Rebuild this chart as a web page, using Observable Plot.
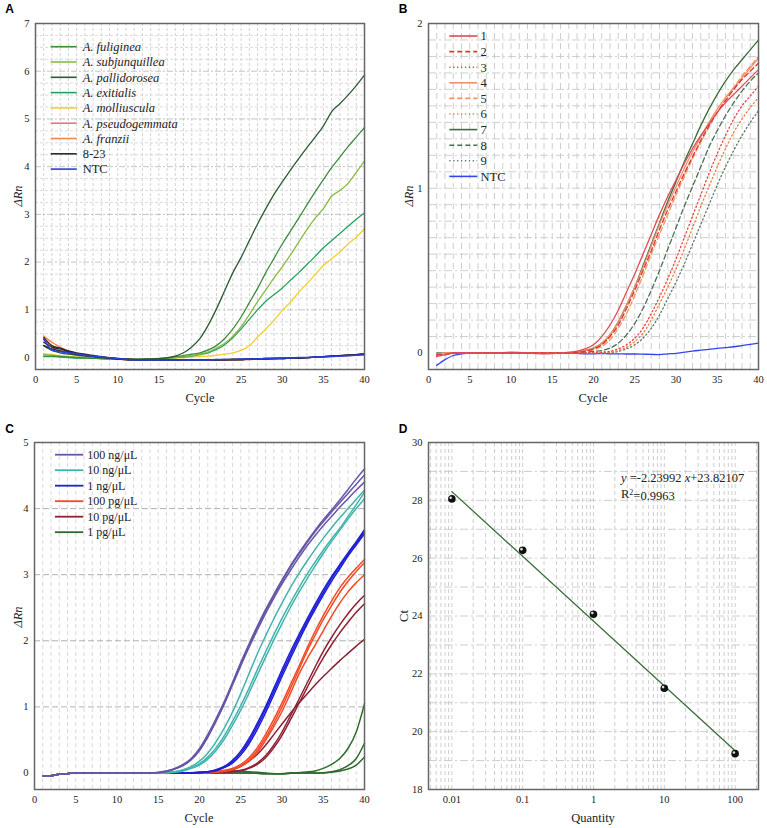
<!DOCTYPE html>
<html>
<head>
<meta charset="utf-8">
<script src="https://cdn.jsdelivr.net/npm/d3@7"></script>
<script src="https://cdn.jsdelivr.net/npm/@observablehq/plot@0.6"></script>
<style>
  body { margin: 0; background: #fff; }
  #fig { position: relative; width: 767px; height: 828px; background: #fff; }
  .panel { position: absolute; }
  #overlay { position: absolute; left: 0; top: 0; pointer-events: none; }
</style>
</head>
<body>
<div id="fig"></div>
<script>
// ---------- shared cycle axis ----------
const cycles = [1,2,3,4,5,6,8,10,12,14,16,17,18,19,20,21,22,23,24,25,26,27,28,29,30,31,32,33,34,35,36,37,38,39,40];
const cycleTicks = [0,5,10,15,20,25,30,35,40];

// ---------- panel A: species specificity ----------
const aFuliginea      = [0.03,0.03,0.02,0.01,0.00,-0.01,-0.02,-0.03,-0.04,-0.03,-0.01, 0.02,0.04,0.07,0.10,0.16,0.25,0.40,0.60,0.85,1.15,1.45,1.78,2.08,2.38,2.65,2.92,3.20,3.47,3.73,3.98,4.20,4.42,4.62,4.82];
const aSubjunquillea  = [0.06,0.05,0.03,0.02,0.01,0.00,-0.02,-0.03,-0.04,-0.03,-0.01, 0.00,0.02,0.04,0.07,0.12,0.20,0.30,0.45,0.65,0.90,1.17,1.42,1.67,1.90,2.15,2.42,2.68,2.92,3.12,3.38,3.50,3.65,3.88,4.12];
const aPallidorosea   = [0.25,0.15,0.10,0.07,0.05,0.03,0.00,-0.03,-0.04,-0.03,0.00, 0.03,0.10,0.22,0.40,0.68,1.02,1.40,1.78,2.10,2.45,2.80,3.12,3.42,3.68,3.93,4.17,4.40,4.62,4.85,5.15,5.32,5.50,5.70,5.92];
const aExitialis      = [0.02,0.02,0.01,0.00,-0.01,-0.01,-0.02,-0.03,-0.04,-0.03,-0.01, 0.00,0.01,0.03,0.06,0.10,0.17,0.27,0.42,0.60,0.80,1.00,1.18,1.32,1.46,1.62,1.78,1.95,2.12,2.30,2.45,2.60,2.75,2.90,3.03];
const aMolliuscula    = [0.08,0.06,0.04,0.02,0.01,0.00,-0.02,-0.03,-0.04,-0.03,-0.02, -0.01,0.00,0.01,0.02,0.03,0.05,0.07,0.10,0.15,0.25,0.43,0.60,0.78,0.99,1.16,1.37,1.55,1.74,1.93,2.07,2.21,2.38,2.52,2.70];
const aPseudogemmata  = [0.38,0.22,0.15,0.10,0.06,0.03,0.00,-0.03,-0.05,-0.05,-0.05, -0.05,-0.05,-0.05,-0.05,-0.05,-0.05,-0.05,-0.04,-0.04,-0.04,-0.03,-0.03,-0.02,-0.02,-0.01,-0.01,0.00,0.01,0.02,0.02,0.03,0.04,0.05,0.06];
const aFranzii        = [0.45,0.32,0.22,0.14,0.09,0.05,0.01,-0.03,-0.05,-0.05,-0.05, -0.05,-0.05,-0.06,-0.06,-0.06,-0.06,-0.06,-0.06,-0.05,-0.04,-0.03,-0.03,-0.02,-0.02,-0.01,0.00,0.00,0.01,0.02,0.03,0.03,0.04,0.05,0.06];
const a823a           = [0.42,0.25,0.20,0.14,0.10,0.07,0.02,-0.02,-0.05,-0.05,-0.05, -0.05,-0.05,-0.05,-0.05,-0.05,-0.05,-0.04,-0.04,-0.04,-0.03,-0.03,-0.03,-0.02,-0.02,-0.01,-0.01,0.00,0.01,0.02,0.03,0.04,0.05,0.06,0.07];
const a823b           = [0.32,0.22,0.18,0.12,0.08,0.05,0.01,-0.03,-0.05,-0.06,-0.06, -0.06,-0.06,-0.05,-0.05,-0.05,-0.05,-0.05,-0.04,-0.04,-0.03,-0.03,-0.02,-0.02,-0.02,-0.01,-0.01,0.00,0.01,0.02,0.03,0.04,0.05,0.06,0.08];
const a823c           = [0.25,0.18,0.14,0.10,0.07,0.04,0.01,-0.02,-0.04,-0.05,-0.05, -0.05,-0.05,-0.05,-0.05,-0.05,-0.05,-0.05,-0.04,-0.04,-0.03,-0.03,-0.02,-0.02,-0.01,-0.01,0.00,0.00,0.01,0.02,0.03,0.04,0.05,0.06,0.07];
const aNTC            = [0.39,0.15,0.12,0.10,0.08,0.05,0.01,-0.02,-0.05,-0.05,-0.05, -0.05,-0.05,-0.05,-0.05,-0.05,-0.04,-0.04,-0.04,-0.03,-0.03,-0.03,-0.02,-0.02,-0.01,-0.01,0.00,0.00,0.01,0.01,0.02,0.03,0.04,0.05,0.06];
const aLegend = ["A. fuliginea","A. subjunquillea","A. pallidorosea","A. exitialis","A. molliuscula","A. pseudogemmata","A. franzii","8-23","NTC"];
const aYTicks = [0,1,2,3,4,5,6,7];

// ---------- panel B: reproducibility (samples 1–9) ----------
const b1 = [-0.02,-0.01,0,0,0,0,0,0.005,0,-0.005,0, 0.005,0.012,0.025,0.05,0.10,0.17,0.26,0.37,0.48,0.60,0.72,0.84,0.95,1.05,1.15,1.24,1.32,1.39,1.46,1.52,1.57,1.62,1.67,1.72];
const b2 = [-0.01,-0.01,0,0,0,0,0,0,0,0,0, 0,0.005,0.012,0.025,0.05,0.10,0.17,0.27,0.38,0.50,0.62,0.75,0.87,0.98,1.09,1.19,1.29,1.38,1.46,1.53,1.60,1.66,1.71,1.76];
const b3 = [-0.02,-0.01,0,0,0,0,0,0,0,0,0, 0,0,0,0,0.005,0.01,0.025,0.05,0.09,0.15,0.24,0.34,0.45,0.57,0.70,0.83,0.96,1.09,1.21,1.32,1.42,1.50,1.56,1.62];
const b4 = [-0.01,0,0,0,0,0,0,0,0,0,0, 0,0.006,0.015,0.03,0.06,0.11,0.19,0.29,0.40,0.52,0.65,0.78,0.90,1.01,1.12,1.22,1.31,1.40,1.48,1.55,1.61,1.67,1.73,1.79];
const b5 = [-0.01,0,0,0,0,0,0,0,0,0,0, 0,0.004,0.01,0.02,0.04,0.08,0.15,0.24,0.35,0.47,0.60,0.72,0.84,0.96,1.07,1.18,1.28,1.37,1.46,1.54,1.61,1.68,1.74,1.80];
const b6 = [-0.01,0,0,0,0,0,0,0,0,0,0, 0,0,0,0,0,0.005,0.015,0.035,0.07,0.12,0.20,0.30,0.40,0.51,0.63,0.76,0.89,1.01,1.13,1.24,1.34,1.42,1.49,1.55];
const b7 = [-0.01,0,0,0,0,0,0,0,0,0,0, 0,0.005,0.015,0.03,0.06,0.11,0.19,0.29,0.40,0.53,0.66,0.79,0.92,1.04,1.16,1.27,1.38,1.48,1.57,1.65,1.72,1.78,1.84,1.90];
const b8 = [0,0,0,0,0,0,0,0,0,0,0, 0,0,0.005,0.01,0.015,0.03,0.06,0.11,0.18,0.27,0.38,0.50,0.63,0.76,0.89,1.01,1.13,1.25,1.35,1.44,1.52,1.59,1.65,1.70];
const b9 = [-0.01,0,0,0,0,0,0,0,0,0,0, 0,0,0,0,0,0,0.01,0.025,0.05,0.09,0.15,0.23,0.33,0.43,0.54,0.66,0.78,0.90,1.02,1.13,1.23,1.32,1.40,1.47];
const bNTC = [-0.075,-0.04,-0.015,-0.005,0,0,0,0.002,0,0,0, 0,-0.002,-0.005,-0.005,-0.003,-0.005,-0.005,-0.006,-0.006,-0.007,-0.008,-0.01,-0.005,-0.002,0.005,0.012,0.017,0.022,0.028,0.033,0.038,0.045,0.052,0.06];
const bLegend = ["1","2","3","4","5","6","7","8","9","NTC"];
const bYTicks = [0,1,2];

// ---------- panel C: sensitivity (template dilutions, triplicates) ----------
const c100ngA = [-0.05,-0.04,-0.02,-0.01,0,0,0,0.005,0,0,0.03, 0.07,0.13,0.22,0.37,0.58,0.82,1.08,1.37,1.67,1.95,2.22,2.47,2.70,2.92,3.13,3.32,3.50,3.67,3.83,3.98,4.13,4.29,4.45,4.60];
const c100ngB = [-0.05,-0.04,-0.02,-0.01,0,0,0,0.005,0,0,0.03, 0.06,0.12,0.21,0.35,0.56,0.80,1.06,1.35,1.65,1.93,2.20,2.45,2.68,2.90,3.11,3.30,3.48,3.65,3.80,3.95,4.09,4.23,4.37,4.51];
const c100ngC = [-0.05,-0.04,-0.02,-0.01,0,0,0,0.005,0,0,0.02, 0.06,0.11,0.20,0.34,0.54,0.78,1.04,1.33,1.62,1.90,2.16,2.41,2.64,2.86,3.06,3.25,3.43,3.59,3.74,3.88,4.02,4.15,4.28,4.40];
const c10ngA  = [-0.05,-0.04,-0.02,-0.01,0,0,0,0.005,0,0,0.01, 0.02,0.05,0.10,0.18,0.30,0.47,0.68,0.92,1.20,1.50,1.80,2.07,2.33,2.57,2.80,3.01,3.20,3.38,3.55,3.71,3.86,4.00,4.14,4.28];
const c10ngB  = [-0.05,-0.04,-0.02,-0.01,0,0,0,0.005,0,0,0, 0.02,0.04,0.08,0.14,0.24,0.38,0.56,0.78,1.02,1.28,1.56,1.83,2.09,2.34,2.57,2.79,3.00,3.19,3.37,3.54,3.70,3.88,4.06,4.25];
const c10ngC  = [-0.05,-0.04,-0.02,-0.01,0,0,0,0.005,0,0,0, 0.01,0.03,0.07,0.12,0.21,0.34,0.51,0.72,0.95,1.21,1.48,1.75,2.01,2.26,2.50,2.72,2.93,3.13,3.32,3.50,3.67,3.84,4.00,4.15];
const c1ngA   = [-0.05,-0.04,-0.02,-0.01,0,0,0,0.005,0,0,0, 0,0,0.005,0.01,0.02,0.05,0.10,0.19,0.33,0.52,0.75,1.00,1.28,1.56,1.83,2.08,2.32,2.55,2.77,2.97,3.15,3.33,3.50,3.68];
const c1ngB   = [-0.05,-0.04,-0.02,-0.01,0,0,0,0.005,0,0,0, 0,0,0,0.01,0.02,0.04,0.09,0.17,0.30,0.48,0.71,0.96,1.23,1.51,1.78,2.04,2.28,2.51,2.73,2.94,3.13,3.31,3.48,3.65];
const c1ngC   = [-0.05,-0.04,-0.02,-0.01,0,0,0,0.005,0,0,0, 0,0,0,0,0.015,0.035,0.08,0.15,0.27,0.44,0.66,0.91,1.18,1.46,1.73,1.99,2.24,2.47,2.69,2.90,3.09,3.28,3.45,3.62];
const c100pgA = [-0.05,-0.04,-0.02,-0.01,0,0,0,0.005,0,0,0, 0,0,0,0.005,0.01,0.02,0.04,0.07,0.13,0.23,0.38,0.58,0.81,1.06,1.33,1.60,1.88,2.14,2.38,2.60,2.80,2.96,3.10,3.23];
const c100pgB = [-0.05,-0.04,-0.02,-0.01,0,0,0,0.005,0,0,0, 0,0,0,0,0.005,0.015,0.03,0.06,0.11,0.20,0.34,0.53,0.75,1.00,1.27,1.55,1.83,2.08,2.32,2.53,2.73,2.90,3.05,3.18];
const c100pgC = [-0.05,-0.04,-0.02,-0.01,0,0,0,0.005,0,0,0, 0,0,0,0,0,0.01,0.025,0.05,0.10,0.18,0.31,0.49,0.70,0.93,1.20,1.48,1.72,1.93,2.15,2.37,2.57,2.74,2.88,3.00];
const c10pgA  = [-0.05,-0.04,-0.02,-0.01,0,0,0,0.005,0,0,0, 0,0,0,0,0,0.01,0.015,0.025,0.04,0.08,0.15,0.26,0.42,0.62,0.86,1.10,1.35,1.60,1.84,2.05,2.24,2.41,2.56,2.69];
const c10pgB  = [-0.05,-0.04,-0.02,-0.01,0,0,0,0.005,0,0,0, 0,0,0,0,0,0.005,0.01,0.02,0.03,0.07,0.13,0.23,0.38,0.57,0.80,1.04,1.28,1.52,1.74,1.94,2.12,2.28,2.43,2.56];
const c10pgC  = [-0.05,-0.04,-0.02,-0.01,0,0,0,0.005,0,0,0, 0,0,0,0,0.01,0.015,0.03,0.05,0.10,0.18,0.28,0.42,0.58,0.74,0.90,1.05,1.19,1.33,1.46,1.58,1.70,1.81,1.92,2.02];
const c1pgA   = [-0.05,-0.04,-0.02,-0.01,0,0,0,0.005,0,0,0, 0,0,0,0.01,0.01,0.02,0.03,0.03,0.03,0.02,0.01,0.00,-0.01,-0.01,0.00,0.005,0.015,0.03,0.07,0.13,0.22,0.37,0.62,1.05];
const c1pgB   = [-0.05,-0.04,-0.02,-0.01,0,0,0,0.005,0,0,0, 0,0,0,0,0,0,0,0,0,0,-0.005,-0.01,-0.01,-0.01,-0.005,0,0,0,0.005,0.02,0.05,0.11,0.22,0.45];
const c1pgC   = [-0.05,-0.04,-0.02,-0.01,0,0,0,0.005,0,0,0, 0,0,0,0,0,0,0,0,0,0,-0.005,-0.01,-0.01,-0.01,-0.005,0,0,0,0,0.01,0.03,0.06,0.12,0.24];
const cLegend = ["100 ng/\u03bcL","10 ng/\u03bcL","1 ng/\u03bcL","100 pg/\u03bcL","10 pg/\u03bcL","1 pg/\u03bcL"];
const cYTicks = [0,1,2,3,4,5];

// ---------- panel D: standard curve ----------
const dQuantity = [0.01, 0.1, 1, 10, 100];
const dCt = [28.05, 26.27, 24.06, 21.5, 19.24];
const dSlope = -2.23992;
const dIntercept = 23.82107;
const dR2 = "0.9963";
const dXTicks = [0.01, 0.1, 1, 10, 100];
const dYTicks = [18,20,22,24,26,28,30];

// ---------- styling ----------
const serif = '"Liberation Serif", "Times New Roman", Times, serif';
const sans = '"Liberation Sans", Arial, Helvetica, sans-serif';
const aColors = ["#3c8c3c","#88bb40","#2e5a32","#22a35a","#f4cf2a","#e87878","#f08848","#2a2a2a","#2a40e6"];
const bColors = ["#e04a55","#e03434","#e84242","#f0906a","#f0965e","#f07a3a","#3d6b3d","#4b6f53","#5f7b61","#3344ee"];
const bDashes = [null,"5,3","1.3,2.6",null,"5,3","1.3,2.6",null,"5,3","1.3,2.6",null];
const cColors = ["#6656a8","#40b5ad","#1e1ed6","#f24a26","#8c2233","#2d6b2d"];
const intFormat = d => String(d);

const plotStyle = {fontFamily: serif, fontSize: "10.5px", color: "#222", background: "transparent", overflow: "visible"};

function rowsFor(values) {
  return cycles.map((cycle, i) => ({cycle, value: values[i]}));
}
function curve(values, stroke, width, dash) {
  const opts = {x: "cycle", y: "value", stroke, strokeWidth: width, curve: "monotone-x"};
  if (dash) opts.strokeDasharray = dash;
  return Plot.line(rowsFor(values), opts);
}
function frame() { return Plot.frame({stroke: "#666", strokeWidth: 1.5}); }

const fig = document.getElementById("fig");
function place(svg, left, top) {
  // tick labels in the same serif face as the rest of the figure
  svg.setAttribute("font-family", serif);
  svg.setAttribute("font-size", "10.5");
  svg.querySelectorAll("text").forEach(t => {
    t.style.fontFamily = serif;
    t.style.fontSize = "10.5px";
    t.setAttribute("fill", "#222");
  });
  const div = document.createElement("div");
  div.className = "panel";
  div.style.left = left + "px";
  div.style.top = top + "px";
  div.appendChild(svg);
  fig.appendChild(div);
}

// ---------- A ----------
const aMinorY = d3.range(0, 7, 0.25).filter(v => v % 1 !== 0);
const plotA = Plot.plot({
  width: 384, height: 414,
  marginLeft: 35, marginRight: 20, marginTop: 23, marginBottom: 45,
  style: plotStyle,
  x: {domain: [0, 40], ticks: cycleTicks, tickFormat: intFormat, tickSize: 0, tickPadding: 6, label: null},
  y: {domain: [-0.25, 7], ticks: aYTicks, tickFormat: intFormat, tickSize: 0, tickPadding: 6, label: null},
  marks: [
    Plot.ruleX(d3.range(1, 40), {stroke: "#c9c9c9", strokeWidth: 0.8, strokeDasharray: "3,2"}),
    Plot.ruleY(aMinorY, {stroke: "#d2d2d2", strokeWidth: 0.8, strokeDasharray: "3,2"}),
    Plot.ruleY(aYTicks.slice(1, 7), {stroke: "#b5b5b5", strokeWidth: 0.8, strokeDasharray: "6,2,2,2"}),
    curve(aPseudogemmata, aColors[5], 1.3),
    curve(aFranzii, aColors[6], 1.3),
    curve(aMolliuscula, aColors[4], 1.3),
    curve(aExitialis, aColors[3], 1.3),
    curve(aSubjunquillea, aColors[1], 1.3),
    curve(aFuliginea, aColors[0], 1.3),
    curve(aPallidorosea, aColors[2], 1.3),
    curve(a823a, aColors[7], 1.3),
    curve(a823b, aColors[7], 1.3),
    curve(a823c, aColors[7], 1.3),
    curve(aNTC, aColors[8], 1.5),
    frame()
  ]
});
place(plotA, 0, 0);

// ---------- B ----------
const bSeries = [b1, b2, b3, b4, b5, b6, b7, b8, b9];
const plotB = Plot.plot({
  width: 383, height: 414,
  marginLeft: 44, marginRight: 9, marginTop: 23, marginBottom: 45,
  style: plotStyle,
  x: {domain: [0, 40], ticks: cycleTicks, tickFormat: intFormat, tickSize: 0, tickPadding: 6, label: null},
  y: {domain: [-0.1, 2], ticks: bYTicks, tickFormat: intFormat, tickSize: 0, tickPadding: 6, label: null},
  marks: [
    Plot.ruleX(d3.range(1, 40), {stroke: "#c8c8c8", strokeWidth: 0.9, strokeDasharray: "6,4"}),
    Plot.ruleY(d3.range(1, 20).map(i => i / 10), {stroke: "#c8c8c8", strokeWidth: 0.9, strokeDasharray: "8,3,2,3"}),
    curve(bNTC, bColors[9], 1.3),
    ...bSeries.map((s, i) => curve(s, bColors[i], 1.3, bDashes[i])).reverse(),
    frame()
  ]
});
place(plotB, 384, 0);

// ---------- C ----------
const cGroups = [
  [c100ngA, c100ngB, c100ngC],
  [c10ngA, c10ngB, c10ngC],
  [c1ngA, c1ngB, c1ngC],
  [c100pgA, c100pgB, c100pgC],
  [c10pgA, c10pgB, c10pgC],
  [c1pgA, c1pgB, c1pgC]
];
const plotC = Plot.plot({
  width: 384, height: 414,
  marginLeft: 34, marginRight: 20, marginTop: 28, marginBottom: 39,
  style: plotStyle,
  x: {domain: [0, 40], ticks: cycleTicks, tickFormat: intFormat, tickSize: 0, tickPadding: 6, label: null},
  y: {domain: [-0.25, 5], ticks: cYTicks, tickFormat: intFormat, tickSize: 0, tickPadding: 6, label: null},
  marks: [
    Plot.ruleX(d3.range(1, 40), {stroke: "#d0d0d0", strokeWidth: 0.8, strokeDasharray: "4,3"}),
    Plot.ruleY(cYTicks.slice(1, 5), {stroke: "#a8a8a8", strokeWidth: 0.9, strokeDasharray: "6,3"}),
    ...cGroups.flatMap((g, i) => g.map(s => curve(s, cColors[i], 1.5))).reverse(),
    frame()
  ]
});
place(plotC, 0, 414);

// ---------- D ----------
const dDomain = [Math.pow(10, -2.33), Math.pow(10, 2.33)];
const dMinorX = [];
for (let e = -3; e <= 2; e++) for (let k = 1; k <= 9; k++) {
  const v = k * Math.pow(10, e);
  if (v > dDomain[0] && v < dDomain[1]) dMinorX.push(v);
}
const dPoints = dQuantity.map((q, i) => ({q, ct: dCt[i]}));
const dFit = [dQuantity[0], dQuantity[dQuantity.length - 1]].map(q => ({q, ct: dSlope * Math.log10(q) + dIntercept}));
const plotD = Plot.plot({
  width: 383, height: 414,
  marginLeft: 44, marginRight: 9, marginTop: 28, marginBottom: 39,
  style: plotStyle,
  x: {type: "log", domain: dDomain, ticks: dXTicks, tickFormat: intFormat, tickSize: 0, tickPadding: 6, label: null},
  y: {domain: [18, 30], ticks: dYTicks, tickFormat: intFormat, tickSize: 0, tickPadding: 6, label: null},
  marks: [
    Plot.ruleX(dMinorX, {stroke: "#c8c8c8", strokeWidth: 0.9, strokeDasharray: "4,3"}),
    Plot.ruleY(d3.range(19, 30), {stroke: "#c8c8c8", strokeWidth: 0.9, strokeDasharray: "8,3,2,3"}),
    Plot.line(dFit, {x: "q", y: "ct", stroke: "#3a6e3a", strokeWidth: 1.3}),
    Plot.dot(dPoints, {x: "q", y: "ct", r: 3.8, fill: "#111"}),
    Plot.dot(dPoints, {x: "q", y: "ct", r: 1.3, fill: "#fff", fillOpacity: 0.85, dx: -1.2, dy: -1.2}),
    frame()
  ]
});
place(plotD, 384, 414);

// ---------- titles, panel letters, legends ----------
const ov = d3.select("#fig").append("svg").attr("id", "overlay").attr("width", 767).attr("height", 828);

function label(txt, x, y, opts = {}) {
  const t = ov.append("text")
    .attr("x", 0).attr("y", 0).attr("dy", "0.35em")
    .attr("transform", `translate(${x},${y})` + (opts.rotate ? ` rotate(${opts.rotate})` : ""))
    .attr("text-anchor", opts.anchor || "middle")
    .attr("font-family", opts.family || serif)
    .attr("font-size", opts.size || 12.5)
    .attr("font-weight", opts.weight || "normal")
    .attr("font-style", opts.italic ? "italic" : "normal")
    .attr("fill", opts.fill || "#222");
  t.text(txt);
  return t;
}

// panel letters
[["A", 9.5, 9.2], ["B", 403.2, 9.2], ["C", 9.5, 428.7], ["D", 403.2, 428.7]].forEach(([s, x, y]) =>
  label(s, x, y, {family: sans, weight: "bold", size: 12, fill: "#000"}));

// axis titles
label("Cycle", 200, 398);
label("Cycle", 593, 398);
label("Cycle", 199, 818);
label("Quantity", 593, 818);
label("\u0394Rn", 17.5, 196, {rotate: -90, italic: true});
label("\u0394Rn", 409, 196, {rotate: -90, italic: true});
label("\u0394Rn", 17.5, 617, {rotate: -90, italic: true});
label("Ct", 403.5, 616, {rotate: -90});

// regression equation
const eq = ov.append("text").attr("x", 621).attr("y", 477.3).attr("dy", "0.35em")
  .attr("font-family", serif).attr("font-size", 12.5).attr("fill", "#222");
eq.append("tspan").attr("font-style", "italic").text("y");
eq.append("tspan").text(` =${dSlope.toFixed(5)} `);
eq.append("tspan").attr("font-style", "italic").text("x");
eq.append("tspan").text(`+${dIntercept.toFixed(5)}`);
const r2 = ov.append("text").attr("x", 621).attr("y", 494).attr("dy", "0.35em")
  .attr("font-family", serif).attr("font-size", 12.5).attr("fill", "#222");
r2.append("tspan").text("R");
r2.append("tspan").attr("font-size", 8).attr("dy", "-0.45em").text("2");
r2.append("tspan").attr("dy", "0.45em").text(`=${dR2}`);

function legend(names, colors, dashes, cfg) {
  names.forEach((name, i) => {
    const y = cfg.y0 + i * cfg.step;
    const line = ov.append("line")
      .attr("x1", cfg.x0).attr("x2", cfg.x1).attr("y1", y).attr("y2", y)
      .attr("stroke", colors[i]).attr("stroke-width", cfg.width || 1.6);
    if (dashes && dashes[i]) line.attr("stroke-dasharray", dashes[i]);
    label(name, cfg.tx, y, {anchor: "start", size: cfg.size, italic: cfg.italic ? cfg.italic(name) : false});
  });
}
legend(aLegend, aColors, null, {x0: 50.7, x1: 76.7, tx: 82.7, y0: 46.7, step: 15.3, size: 12.5, italic: n => n.startsWith("A. ")});
legend(bLegend, bColors, bDashes, {x0: 449.3, x1: 477.3, tx: 480.5, y0: 36, step: 15.6, size: 12.5});
legend(cLegend, cColors, null, {x0: 55, x1: 83.3, tx: 87.3, y0: 454.7, step: 15.5, size: 12, width: 1.8});
</script>
</body>
</html>
